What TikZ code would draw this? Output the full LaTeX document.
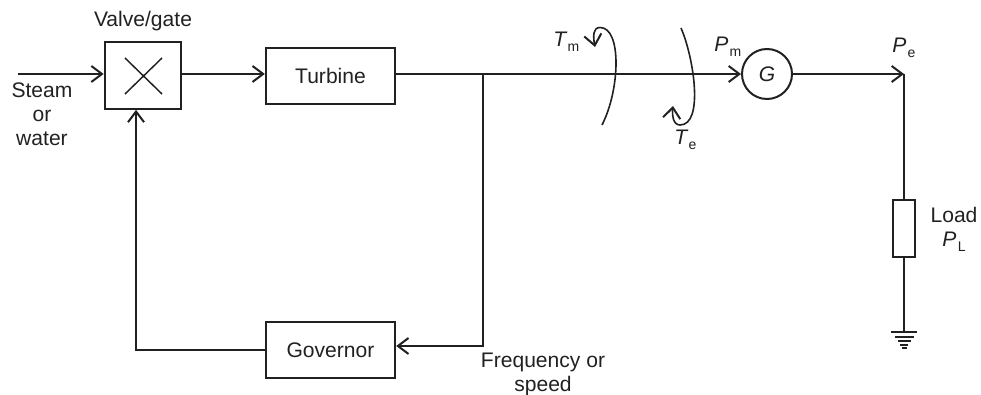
\documentclass[tikz,border=0pt]{standalone}
\usepackage{fontspec}
\setmainfont{Liberation Sans}
\usetikzlibrary{arrows.meta}
\newcommand{\QtyLabel}[2]{{\itshape #1}\raisebox{-0.45ex}{\fontsize{10.5}{12}\selectfont\hspace{0.1em}#2}}
\definecolor{ink}{gray}{0.13}
\tikzset{
  wire/.style={line width=1.5pt,draw=ink},
  arr/.style={wire,-{Straight Barb[length=8pt,width=12pt,line width=1.5pt]}},
  thin arr/.style={line width=1.2pt,draw=ink,-{Straight Barb[length=8pt,width=13pt,line width=1.5pt]}},
  frame/.style={draw=ink,line width=1.5pt,inner sep=0pt},
  blockbox/.style={frame,minimum width=97pt,minimum height=42pt,font=\fontsize{15.8}{18}\selectfont,text=ink},
  lab/.style={inner sep=0pt,font=\fontsize{15.8}{18}\selectfont,text=ink,align=center},
  gbar/.style={line width=1.5pt,draw=ink},
}
\begin{document}
\begin{tikzpicture}[x=0.75pt,y=-0.75pt]
\useasboundingbox (0,0) rectangle (981,395);
% coordinates
\coordinate (in) at (18,74);
\coordinate (corner) at (904,74);
\coordinate (junc) at (483,74);
\coordinate (jdown) at (483,346);
\coordinate (gleft) at (136,350);
\coordinate (gnd) at (904,332);
\coordinate (tmS) at (602,125);
\coordinate (tmE) at (595,47);
\coordinate (teS) at (681,28);
\coordinate (teE) at (673,106);
% blocks
\node[frame,minimum width=57.5pt,minimum height=50pt] (valve) at (143,75.5) {};
\node[blockbox] (turbine) at (330.5,76) {Turbine};
\node[blockbox] (governor) at (330.5,350) {Governor};
\node[frame,circle,minimum size=37.5pt,font=\fontsize{15.8}{18}\itshape,text=ink] (gen) at (767,74) {G};
\node[frame,minimum width=17pt,minimum height=43pt] (load) at (904,228.5) {};
% cross
\draw[line width=1.1pt,draw=ink] (125,58) -- (162,94) (162,58) -- (125,94);
% connectors
\draw[arr] (in) -- (in -| valve.west);
\draw[arr] (valve.east |- in) -- (turbine.west |- in);
\draw[arr] (turbine.east |- in) -- (gen.west);
\draw[arr] (gen.east) -- (corner);
\draw[wire] (corner) -- (load.north);
\draw[wire] (load.south) -- (gnd);
\draw[arr] (junc) -- (jdown) -- (governor.east |- jdown);
\draw[arr] (governor.west) -- (gleft) -- (gleft |- valve.south);
% torque curves
\draw[thin arr] (tmS) .. controls (620,90) and (622,27.5) .. (600,27.5) .. controls (593,27.5) and (593,36) .. (tmE);
\draw[thin arr] (teS) .. controls (694,58) and (704,125) .. (680,125) .. controls (673,125) and (672,115) .. (teE);
% ground
\draw[gbar] (891,332) -- (917,332);
\draw[gbar] (895,337) -- (914,337);
\draw[gbar] (898,341) -- (911,341);
\draw[gbar] (900,344.5) -- (908,344.5);
\draw[gbar] (902,348) -- (907,348);
% labels
\node[lab] (lv) at (143,21) {Valve/gate};
\node[lab] (ls) at (42,114.5) {Steam\\or\\water};
\node[lab,anchor=west] (ltm) at (553,42) {\QtyLabel{T}{m}};
\node[lab,anchor=west] (lte) at (674,140) {\QtyLabel{T}{e}};
\node[lab,anchor=west] (lpm) at (714,47) {\QtyLabel{P}{m}};
\node[lab,anchor=west] (lpe) at (892,48) {\QtyLabel{P}{e}};
\node[lab] (ll) at (954,229) {Load\\\QtyLabel{P}{L}};
\node[lab] (lf) at (543,374) {Frequency or\\speed};
\end{tikzpicture}
\end{document}
